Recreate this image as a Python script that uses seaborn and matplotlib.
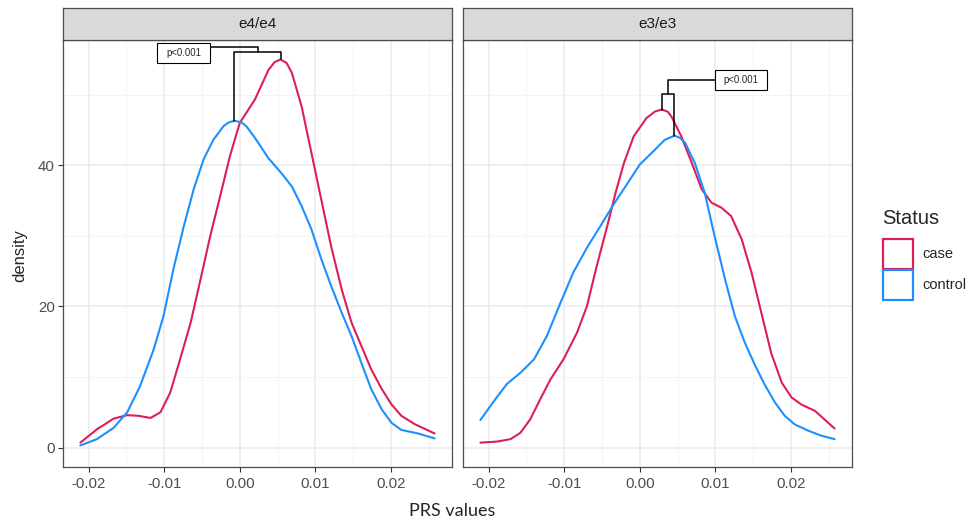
import numpy as np
import pandas as pd
import matplotlib
matplotlib.use("Agg")
import matplotlib.pyplot as plt
import seaborn as sns
from matplotlib.patches import Patch, Rectangle

genotypes = ["e4/e4", "e3/e3"]
statuses = ["case", "control"]
palette = {"case": "#DC1F5A", "control": "#1E8FFF"}

# e4/e4 panel, density curves
e4_case_x = [-0.0211, -0.0189, -0.0167, -0.0149, -0.0134, -0.0118, -0.0105, -0.0092, -0.0079,
             -0.0065, -0.0052, -0.0039, -0.0026, -0.0013, 0.0000, 0.0020, 0.0038, 0.0046,
             0.0054, 0.0062, 0.0069, 0.0082, 0.0095, 0.0108, 0.0121, 0.0135, 0.0148, 0.0161,
             0.0174, 0.0188, 0.0201, 0.0214, 0.0232, 0.0258]
e4_case_y = [0.7, 2.6, 4.1, 4.6, 4.5, 4.2, 5.0, 7.8, 12.5, 17.7, 23.8, 30.0, 35.6, 41.3, 46.0,
             49.3, 53.5, 54.6, 55.0, 54.5, 53.1, 48.3, 41.7, 35.1, 28.5, 22.4, 17.7, 14.4,
             11.1, 8.3, 6.1, 4.5, 3.3, 2.0]
e4_ctrl_x = [-0.0211, -0.0189, -0.0167, -0.0149, -0.0132, -0.0114, -0.0101, -0.0088, -0.0074,
             -0.0061, -0.0048, -0.0035, -0.0021, -0.0014, -0.0007, 0.0002, 0.0009, 0.0020,
             0.0038, 0.0055, 0.0069, 0.0082, 0.0095, 0.0108, 0.0121, 0.0135, 0.0148, 0.0161,
             0.0174, 0.0188, 0.0201, 0.0214, 0.0236, 0.0258]
e4_ctrl_y = [0.3, 1.2, 2.8, 5.0, 8.7, 13.9, 18.6, 25.2, 31.4, 36.6, 40.8, 43.6, 45.6, 46.1,
             46.3, 46.1, 45.5, 43.9, 41.0, 38.9, 37.0, 34.2, 30.9, 26.7, 22.9, 19.1, 15.8,
             12.0, 8.3, 5.4, 3.5, 2.5, 2.0, 1.3]

# e3/e3 panel
e3_case_x = [-0.0211, -0.0189, -0.0171, -0.0158, -0.0145, -0.0132, -0.0118, -0.0101, -0.0083,
             -0.0070, -0.0057, -0.0043, -0.0032, -0.0021, -0.0008, 0.0009, 0.0020, 0.0029,
             0.0037, 0.0042, 0.0055, 0.0069, 0.0082, 0.0095, 0.0108, 0.0121, 0.0135, 0.0148,
             0.0161, 0.0174, 0.0188, 0.0201, 0.0214, 0.0232, 0.0258]
e3_case_y = [0.7, 0.85, 1.2, 2.1, 4.0, 6.8, 9.7, 12.5, 16.3, 20.0, 25.7, 31.4, 36.1, 40.3, 44.1,
             46.7, 47.6, 47.9, 47.6, 46.9, 44.1, 40.3, 36.6, 34.7, 34.0, 32.8, 29.5, 24.8,
             19.1, 13.4, 9.2, 7.1, 6.1, 5.2, 2.7]
e3_ctrl_x = [-0.0211, -0.0193, -0.0176, -0.0158, -0.0140, -0.0123, -0.0105, -0.0088, -0.0070,
             -0.0052, -0.0035, -0.0017, 0.0000, 0.0020, 0.0033, 0.0046, 0.0053, 0.0060, 0.0073,
             0.0086, 0.0099, 0.0113, 0.0126, 0.0139, 0.0152, 0.0165, 0.0179, 0.0192, 0.0205,
             0.0223, 0.0240, 0.0258]
e3_ctrl_y = [3.9, 6.6, 9.0, 10.6, 12.5, 15.8, 20.5, 24.8, 28.3, 31.4, 34.4, 37.3, 40.1, 42.2,
             43.6, 44.2, 43.9, 43.2, 40.3, 36.1, 30.0, 23.8, 18.6, 14.9, 11.8, 9.0, 6.4, 4.5,
             3.3, 2.4, 1.7, 1.2]

p_labels = ["p<0.001", "p<0.001"]

curves = {
    ("e4/e4", "case"): (e4_case_x, e4_case_y),
    ("e4/e4", "control"): (e4_ctrl_x, e4_ctrl_y),
    ("e3/e3", "case"): (e3_case_x, e3_case_y),
    ("e3/e3", "control"): (e3_ctrl_x, e3_ctrl_y),
}
frames = []
for (g, s), (xs, ys) in curves.items():
    frames.append(pd.DataFrame({"PRS": xs, "density": ys, "Status": s, "APOE": g}))
df = pd.concat(frames, ignore_index=True)

sns.set_theme(style="whitegrid")
plt.rcParams["font.family"] = ["Liberation Sans", "DejaVu Sans"]

W, H = 973, 524
fig = plt.figure(figsize=(W / 100, H / 100), dpi=100)

border = "#4d4d4d"
panel_x = [63, 463]
pw, top, bot = 389, 40, 467

# annotation layout per panel: bracket height, leader height, box (x0, x1, y0, y1)
brackets = [
    dict(yb=56.0, yl=56.7, box=(-0.0110, -0.0039, 54.5, 57.3)),
    dict(yb=50.1, yl=52.1, box=(0.00996, 0.01688, 50.7, 53.5)),
]

for i, g in enumerate(genotypes):
    ax = fig.add_axes([panel_x[i] / W, 1 - bot / H, pw / W, (bot - top) / H])
    sub = df[df["APOE"] == g]
    sns.lineplot(data=sub, x="PRS", y="density", hue="Status", palette=palette,
                 hue_order=statuses, ax=ax, lw=1.5, legend=False, sort=True)
    ax.set_xlim(-0.0234, 0.0281)
    ax.set_ylim(-2.75, 57.75)
    ax.set_xticks([-0.02, -0.01, 0.0, 0.01, 0.02])
    ax.set_xticklabels(["-0.02", "-0.01", "0.00", "0.01", "0.02"])
    ax.set_xticks([-0.015, -0.005, 0.005, 0.015, 0.025], minor=True)
    ax.set_yticks([0, 20, 40])
    ax.set_yticks([10, 30, 50], minor=True)
    ax.grid(True, which="major", color="#ebebeb", lw=1.1)
    ax.grid(True, which="minor", color="#f2f2f2", lw=0.6)
    ax.set_facecolor("white")
    for sp in ax.spines.values():
        sp.set_color(border)
        sp.set_linewidth(0.9)
    ax.tick_params(axis="both", which="major", length=3.5, width=0.8, color="#333333",
                   labelsize=10.8, labelcolor="#4d4d4d", pad=2.5)
    ax.tick_params(axis="x", which="major", bottom=True, pad=4)
    ax.tick_params(which="minor", length=0)
    if i == 0:
        ax.tick_params(axis="y", left=True)
    else:
        ax.tick_params(axis="y", left=False, labelleft=False)
    ax.set_xlabel("")
    ax.set_ylabel("")

    # significance bracket between the two curve peaks
    cx, cy = curves[(g, "case")]
    kx, ky = curves[(g, "control")]
    ci, ki = int(np.argmax(cy)), int(np.argmax(ky))
    b = brackets[i]
    xa, xb = kx[ki], cx[ci]
    ax.plot([xa, xa, xb, xb], [ky[ki], b["yb"], b["yb"], cy[ci]], color="black", lw=1.1,
            clip_on=False)
    xm = (xa + xb) / 2
    x0, x1, y0, y1 = b["box"]
    xe = x1 if x1 < xm else x0
    ax.plot([xm, xm, xe], [b["yb"], b["yl"], b["yl"]], color="black", lw=1.1, clip_on=False)
    ax.add_patch(Rectangle((x0, y0), x1 - x0, y1 - y0, facecolor="white", edgecolor="black",
                           lw=0.8, zorder=5, clip_on=False))
    ax.text((x0 + x1) / 2, (y0 + y1) / 2, p_labels[i], ha="center", va="center", fontsize=6.9,
            zorder=6, clip_on=False)

    # facet strip
    sax = fig.add_axes([panel_x[i] / W, 1 - top / H, pw / W, 32 / H])
    sax.set_facecolor("#d9d9d9")
    sax.set_xticks([])
    sax.set_yticks([])
    sax.grid(False)
    for sp in sax.spines.values():
        sp.set_color(border)
        sp.set_linewidth(0.9)
    sax.text(0.5, 0.5, g, ha="center", va="center", fontsize=11, color="#1a1a1a",
             transform=sax.transAxes)

fig.text(20 / W, 1 - 256 / H, "density", rotation=90, ha="center", va="center", fontsize=12)
fig.text(452 / W, 1 - 511 / H, "PRS values", ha="center", va="center", fontsize=13,
         family=["Lato", "DejaVu Sans"])

fig.text(882 / W, 1 - 209 / H, "Status", ha="left", va="top", fontsize=14.5)
handles = [Patch(facecolor="white", edgecolor=palette[s], lw=1.6, label=s) for s in statuses]
fig.legend(handles=handles, loc="upper left",
           bbox_to_anchor=(876 / W, 1 - 232 / H), frameon=False, fontsize=10.5,
           handlelength=2.05, handleheight=2.75, labelspacing=0.08,
           handletextpad=0.6, borderpad=0)

fig.savefig("out.png", dpi=100)
